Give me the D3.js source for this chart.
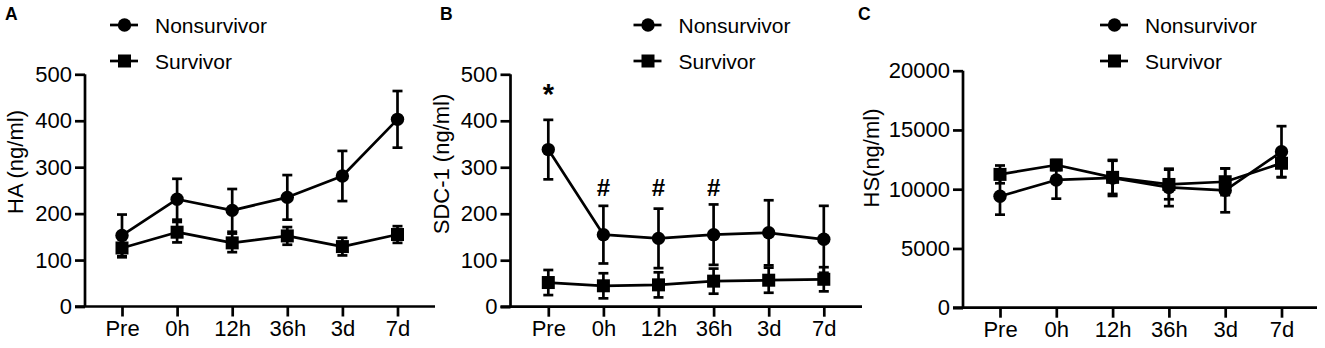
<!DOCTYPE html>
<html>
<head>
<meta charset="utf-8">
<script src="https://cdn.jsdelivr.net/npm/d3@7"></script>
<style>
  html, body { margin: 0; padding: 0; background: #fff; }
  svg { display: block; }
  text { font-family: "Liberation Sans", Arial, Helvetica, sans-serif; fill: #000; }
</style>
</head>
<body>
<svg id="chart" width="1325" height="348"></svg>
<script>
// ---------- DATA ----------
const categories = ["Pre", "0h", "12h", "36h", "3d", "7d"];
const seriesNames = ["Nonsurvivor", "Survivor"];

const haNon    = [153, 231, 207, 235, 281, 403];
const haNonErr = [45, 44, 46, 48, 54, 61];
const haSur    = [126, 160, 137, 152, 129, 155];
const haSurErr = [20, 22, 20, 19, 19, 18];

const sdcNon    = [338, 155, 147, 155, 159, 145];
const sdcNonErr = [64, 62, 64, 65, 70, 72];
const sdcSur    = [52, 45, 47, 55, 57, 59];
const sdcSurErr = [27, 27, 27, 27, 27, 26];

const hsNon    = [9400, 10780, 10950, 10150, 9900, 13170];
const hsNonErr = [1550, 1580, 1520, 1580, 1850, 2150];
const hsSur    = [11250, 12040, 11000, 10400, 10630, 12190];
const hsSurErr = [750, 420, 1400, 1250, 1130, 1180];

const haTicks  = [0, 100, 200, 300, 400, 500];
const sdcTicks = [0, 100, 200, 300, 400, 500];
const hsTicks  = [0, 5000, 10000, 15000, 20000];

const sdcStar = ["Pre"];
const sdcHash = ["0h", "12h", "36h"];

// ---------- LAYOUT ----------
const panels = [
  { letter: "A", letterX: 5, axisX: 85, x0: 122, step: 55.1, yTop: 74.3, yBot: 306.5, yMax: 500,
    ticks: haTicks, title: "HA (ng/ml)", titleX: 15, titleY: 162,
    legX: 110, non: haNon, nonErr: haNonErr, sur: haSur, surErr: haSurErr, axisEnd: 435 },
  { letter: "B", letterX: 440, axisX: 510.5, x0: 548.3, step: 55.1, yTop: 74.3, yBot: 306.7, yMax: 500,
    ticks: sdcTicks, title: "SDC-1 (ng/ml)", titleX: 441.5, titleY: 164,
    legX: 633.5, non: sdcNon, nonErr: sdcNonErr, sur: sdcSur, surErr: sdcSurErr, axisEnd: 862 },
  { letter: "C", letterX: 858, axisX: 963, x0: 1000, step: 56.3, yTop: 70.7, yBot: 307.7, yMax: 20000,
    ticks: hsTicks, title: "HS(ng/ml)", titleX: 871.5, titleY: 158,
    legX: 1100, non: hsNon, nonErr: hsNonErr, sur: hsSur, surErr: hsSurErr, axisEnd: 1317 }
];

const svg = d3.select("#chart");
const SW = 2.7;
const FS = 22;

function drawSymbol(g, type, x, y) {
  if (type === 0) {
    g.append("circle").attr("cx", x).attr("cy", y).attr("r", 6.7).attr("fill", "#000");
  } else {
    g.append("rect").attr("x", x - 6.5).attr("y", y - 6.5).attr("width", 13).attr("height", 13).attr("fill", "#000");
  }
}

panels.forEach((p, pi) => {
  const g = svg.append("g");
  const x = d3.scalePoint().domain(categories).range([p.x0, p.x0 + p.step * (categories.length - 1)]);
  const y = d3.scaleLinear().domain([0, p.yMax]).range([p.yBot, p.yTop]);

  // panel letter
  g.append("text").attr("x", p.letterX).attr("y", 20)
    .attr("font-size", 17.5).attr("font-weight", "bold").text(p.letter);

  // y axis
  const ya = g.append("g").attr("transform", `translate(${p.axisX},0)`)
    .call(d3.axisLeft(y).tickValues(p.ticks).tickSize(10).tickPadding(3).tickFormat(d3.format("d")));
  ya.select(".domain").attr("stroke-width", SW).attr("d", `M0,${p.yTop}V${p.yBot}`);
  ya.selectAll(".tick line").attr("stroke-width", SW);
  ya.selectAll(".tick text").attr("font-size", FS).attr("font-family", "Liberation Sans, Arial").attr("fill", "#000");

  // x axis
  const xa = g.append("g").attr("transform", `translate(0,${p.yBot})`)
    .call(d3.axisBottom(x).tickSize(10).tickPadding(3.5));
  xa.select(".domain").attr("stroke-width", SW).attr("d", `M${p.axisX - 10},0H${p.axisEnd}`);
  xa.selectAll(".tick line").attr("stroke-width", SW);
  xa.selectAll(".tick text").attr("font-size", FS).attr("font-family", "Liberation Sans, Arial").attr("fill", "#000");

  // y title
  g.append("text").attr("transform", `translate(${p.titleX},${p.titleY}) rotate(-90)`)
    .attr("text-anchor", "middle").attr("dominant-baseline", "central")
    .attr("font-size", FS).text(p.title);

  // series
  const series = [
    { vals: p.non, errs: p.nonErr, type: 0 },
    { vals: p.sur, errs: p.surErr, type: 1 }
  ];
  const line = d3.line().x((d, i) => x(categories[i])).y(d => y(d));
  series.forEach(s => {
    const sg = g.append("g");
    s.vals.forEach((v, i) => {
      const cx = x(categories[i]);
      const y1 = y(v + s.errs[i]), y2 = y(v - s.errs[i]);
      sg.append("line").attr("x1", cx).attr("x2", cx).attr("y1", y1).attr("y2", y2)
        .attr("stroke", "#000").attr("stroke-width", SW);
      [y1, y2].forEach(yy => sg.append("line").attr("x1", cx - 5).attr("x2", cx + 5)
        .attr("y1", yy).attr("y2", yy).attr("stroke", "#000").attr("stroke-width", SW));
    });
    sg.append("path").datum(s.vals).attr("d", line).attr("fill", "none")
      .attr("stroke", "#000").attr("stroke-width", SW).attr("stroke-linejoin", "round");
    s.vals.forEach((v, i) => drawSymbol(sg, s.type, x(categories[i]), y(v)));
  });

  // legend
  const lg = g.append("g");
  seriesNames.forEach((name, i) => {
    const ly = i === 0 ? 25 : 61;
    lg.append("line").attr("x1", p.legX).attr("x2", p.legX + 28).attr("y1", ly).attr("y2", ly)
      .attr("stroke", "#000").attr("stroke-width", SW);
    drawSymbol(lg, i, p.legX + 14.5, ly);
    lg.append("text").attr("x", p.legX + 45).attr("y", ly + 7.8)
      .attr("font-size", 21).text(name);
  });

  // annotations (panel B)
  if (pi === 1) {
    sdcStar.forEach(c => {
      g.append("text").attr("x", x(c)).attr("y", 104).attr("text-anchor", "middle")
        .attr("font-size", 29).attr("font-weight", "bold").text("*");
    });
    sdcHash.forEach(c => {
      g.append("text").attr("x", x(c)).attr("y", 195.5).attr("text-anchor", "middle")
        .attr("font-size", 24).attr("font-weight", "bold").text("#");
    });
  }
});
</script>
</body>
</html>
